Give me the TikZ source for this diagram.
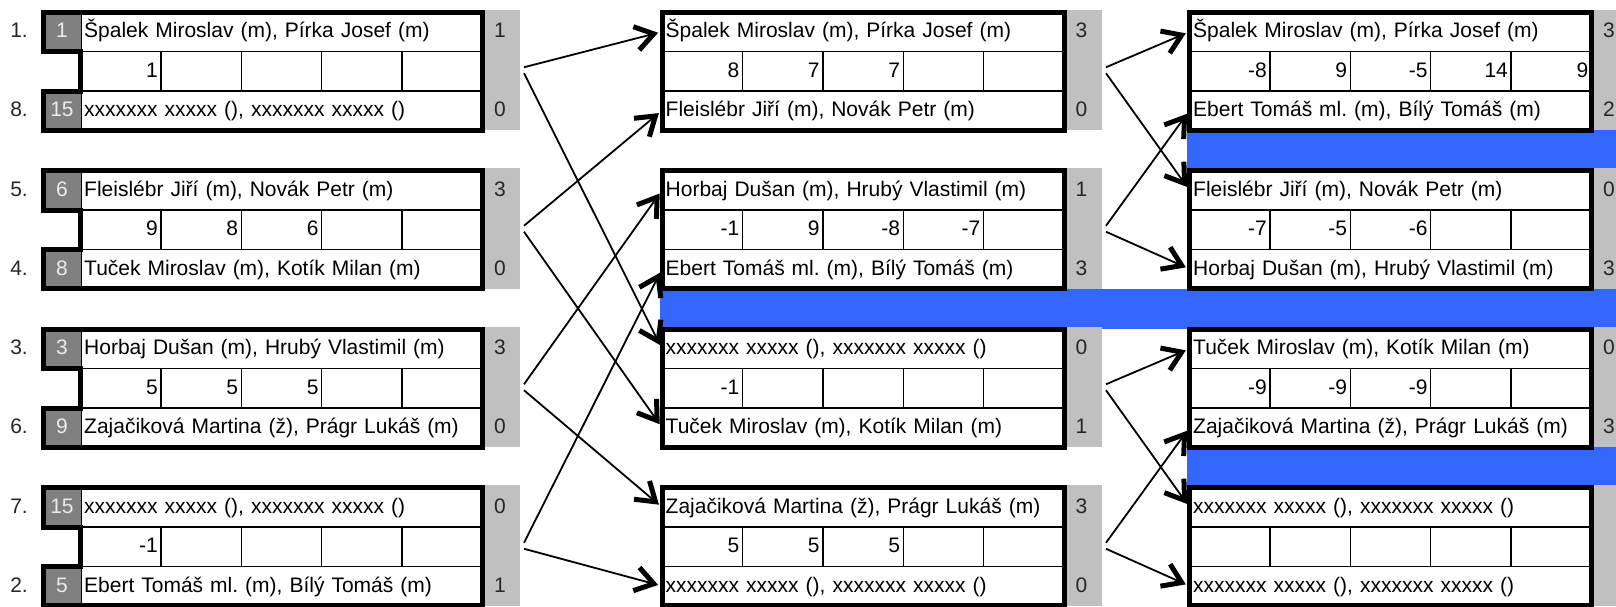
\documentclass[tikz,border=0pt]{standalone}
\usepackage{fontspec}
\setmainfont{Liberation Sans}
\usetikzlibrary{arrows.meta}
\definecolor{laneblue}{RGB}{51,102,255}
\definecolor{stripgray}{RGB}{192,192,192}
\definecolor{seedgray}{RGB}{128,128,128}
\frenchspacing
\begin{document}
\begin{tikzpicture}[x=1pt, y=-1pt, font=\fontsize{21}{25}\selectfont,
    row/.style={draw, line width=1.4pt, anchor=west, text width=396pt, minimum height=39.5pt, inner xsep=3pt, inner ysep=0pt, align=left, text height=15.5pt, text depth=3.5pt},
    cell/.style={draw, line width=1.4pt, text width=74pt, minimum height=39.5pt, inner xsep=3.2pt, inner ysep=0pt, align=right, text height=15.5pt, text depth=3.5pt},
    seed/.style={fill=seedgray, text=black!8, minimum width=38pt, minimum height=39.5pt, inner sep=0pt, text height=15.5pt, text depth=3.5pt},
    rank/.style={anchor=east, inner sep=0pt, text=black!85, text height=15.5pt, text depth=3.5pt},
    pts/.style={anchor=west, inner sep=0pt, text=black!85, text height=15.5pt, text depth=3.5pt},
    boxframe/.style={line width=5pt},
    link/.style={line width=1.8pt, -{Straight Barb[length=18pt, width=24pt, line width=5pt]}, shorten >=4pt}]

  \useasboundingbox (0,0) rectangle (1616,606);
  \clip (0,0) rectangle (1616,606);

  % 分隔
  \fill[laneblue] (659.5,288.5) rectangle (1616,329);
  \fill[laneblue] (1187,130) rectangle (1616,170.5);
  \fill[laneblue] (1187,447) rectangle (1616,487.5);

  % 第一轮
  \foreach \bx/\rka/\sda/\pa/\rkb/\sdb/\pb/\pta/\ptb/\scores in {
      1/1./1/{Špalek Miroslav (m), Pírka Josef (m)}/8./15/{xxxxxxx xxxxx (), xxxxxxx xxxxx ()}/1/0/{1,{},{},{},{}},
      2/5./6/{Fleislébr Jiří (m), Novák Petr (m)}/4./8/{Tuček Miroslav (m), Kotík Milan (m)}/3/0/{9,8,6,{},{}},
      3/3./3/{Horbaj Dušan (m), Hrubý Vlastimil (m)}/6./9/{Zajačiková Martina (ž), Prágr Lukáš (m)}/3/0/{5,5,5,{},{}},
      4/7./15/{xxxxxxx xxxxx (), xxxxxxx xxxxx ()}/2./5/{Ebert Tomáš ml. (m), Bílý Tomáš (m)}/0/1/{-1,{},{},{},{}}}
  {
    \pgfmathsetmacro{\ty}{12+158.5*(\bx-1)}
    \fill[stripgray] (485,\ty-2.5) rectangle (520,\ty+118);
    \node[rank] (L\bx-ra) at (28,\ty+19.75) {\rka};
    \node[rank] (L\bx-rb) at (28,\ty+98.5) {\rkb};
    \node[seed] (L\bx-da) at (62,\ty+19.75) {\sda};
    \node[seed] (L\bx-db) at (62,\ty+98.5) {\sdb};
    \node[row] (L\bx-a) at (80.5,\ty+19.75) {\pa};
    \node[row] (L\bx-b) at (80.5,\ty+98.5) {\pb};
    \foreach \v [count=\i] in \scores
      \node[cell] (L\bx-s\i) at (40.3+80.4*\i,\ty+59.25) {\v};
    \node[pts] (L\bx-pa) at (494,\ty+19.75) {\pta};
    \node[pts] (L\bx-pb) at (494,\ty+98.5) {\ptb};
    \draw[boxframe] (43,\ty) -- (482.5,\ty) -- (482.5,\ty+118) -- (43,\ty+118) -- (43,\ty+79)
      -- (80.5,\ty+79) -- (80.5,\ty+39.5) -- (43,\ty+39.5) -- cycle;
    \coordinate (L\bx-up) at (524,\ty+55.25);
    \coordinate (L\bx-dn) at (524,\ty+61.25);
  }

  % 第二轮、第三轮
  \foreach \col/\x/\bx/\pa/\pb/\pta/\ptb/\scores in {
      M/662/1/{Špalek Miroslav (m), Pírka Josef (m)}/{Fleislébr Jiří (m), Novák Petr (m)}/3/0/{8,7,7,{},{}},
      M/662/2/{Horbaj Dušan (m), Hrubý Vlastimil (m)}/{Ebert Tomáš ml. (m), Bílý Tomáš (m)}/1/3/{-1,9,-8,-7,{}},
      M/662/3/{xxxxxxx xxxxx (), xxxxxxx xxxxx ()}/{Tuček Miroslav (m), Kotík Milan (m)}/0/1/{-1,{},{},{},{}},
      M/662/4/{Zajačiková Martina (ž), Prágr Lukáš (m)}/{xxxxxxx xxxxx (), xxxxxxx xxxxx ()}/3/0/{5,5,5,{},{}},
      R/1189.5/1/{Špalek Miroslav (m), Pírka Josef (m)}/{Ebert Tomáš ml. (m), Bílý Tomáš (m)}/3/2/{-8,9,-5,14,9},
      R/1189.5/2/{Fleislébr Jiří (m), Novák Petr (m)}/{Horbaj Dušan (m), Hrubý Vlastimil (m)}/0/3/{-7,-5,-6,{},{}},
      R/1189.5/3/{Tuček Miroslav (m), Kotík Milan (m)}/{Zajačiková Martina (ž), Prágr Lukáš (m)}/0/3/{-9,-9,-9,{},{}},
      R/1189.5/4/{xxxxxxx xxxxx (), xxxxxxx xxxxx ()}/{xxxxxxx xxxxx (), xxxxxxx xxxxx ()}/{}/{}/{{},{},{},{},{}}}
  {
    \pgfmathsetmacro{\ty}{12+158.5*(\bx-1)}
    \fill[stripgray] (\x+404.5,\ty-2.5) rectangle (\x+439.5,\ty+118);
    \node[row] (\col\bx-a) at (\x,\ty+19.75) {\pa};
    \node[row] (\col\bx-b) at (\x,\ty+98.5) {\pb};
    \foreach \v [count=\i] in \scores
      \node[cell] (\col\bx-s\i) at (\x-40.2+80.4*\i,\ty+59.25) {\v};
    \node[pts] (\col\bx-pa) at (\x+413.5,\ty+19.75) {\pta};
    \node[pts] (\col\bx-pb) at (\x+413.5,\ty+98.5) {\ptb};
    \draw[boxframe] (\x,\ty) rectangle (\x+402,\ty+118);
    \coordinate (\col\bx-up) at (\x+444,\ty+55.25);
    \coordinate (\col\bx-dn) at (\x+444,\ty+61.25);
  }

  % 连接
  \foreach \s/\d in {L1-up/M1-a, L1-dn/M3-a, L2-up/M1-b, L2-dn/M3-b,
                     L3-up/M2-a, L3-dn/M4-a, L4-up/M2-b, L4-dn/M4-b,
                     M1-up/R1-a, M1-dn/R2-a, M2-up/R1-b, M2-dn/R2-b,
                     M3-up/R3-a, M3-dn/R4-a, M4-up/R3-b, M4-dn/R4-b}
    \draw[link] (\s) -- (\d.west);

\end{tikzpicture}
\end{document}
